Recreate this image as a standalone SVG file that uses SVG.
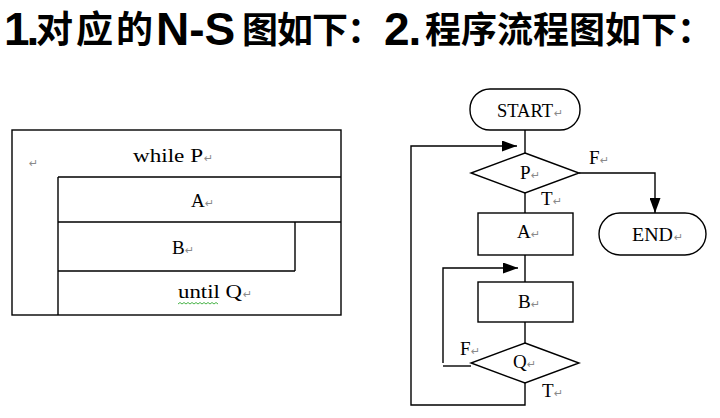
<svg xmlns="http://www.w3.org/2000/svg" width="720" height="418" viewBox="0 0 720 418">
<defs>
<style>
.t{font-family:"Liberation Sans","Noto Sans CJK SC",sans-serif;font-weight:bold;font-size:46px;fill:#000}
.c{font-family:"Noto Sans CJK SC",sans-serif;font-weight:bold;font-size:37px;fill:#000}
.s{font-family:"Liberation Serif",serif;font-size:19px;fill:#000}
.pm{font-family:"DejaVu Sans",sans-serif;font-size:11px;fill:#8a8a8a}
.ln{fill:none;stroke:#000;stroke-width:1.4}
.bx{fill:#fff;stroke:#000;stroke-width:1.4}
</style>
<marker id="ah" viewBox="0 0 15 11" refX="15" refY="5.5" markerWidth="15" markerHeight="11" markerUnits="userSpaceOnUse" orient="auto">
<path d="M0,0 L15,5.5 L0,11 Z" fill="#000"/>
</marker>
</defs>
<rect width="720" height="418" fill="#fff"/>
<g id="title">
<text class="t" y="45"><tspan class="t" x="4" y="45" letter-spacing="-3">1.</tspan><tspan class="c" x="36" y="43" letter-spacing="3">对应的</tspan><tspan class="t" x="156" y="45">N-S</tspan><tspan class="c" x="242" y="43" style="font-size:36px" letter-spacing="-1">图如下：</tspan><tspan class="t" x="384" y="45" letter-spacing="-1">2.</tspan><tspan class="c" x="425" y="43" style="font-size:36px">程序流程图如下：</tspan></text>
</g>
<g id="ns-diagram">
<rect class="bx" x="12" y="130" width="329" height="185"/>
<path class="ln" d="M58,177 H341 M58,177 V315 M58,222 H341 M295,222 V271 M58,271 H295"/>
<text class="pm" x="29" y="167">↵</text>
<text class="s" x="133" y="162" textLength="70" lengthAdjust="spacingAndGlyphs">while P</text><text class="pm" x="204" y="162">↵</text>
<text class="s" x="191" y="207" font-size="20">A</text><text class="pm" x="205" y="207">↵</text>
<text class="s" x="172" y="254">B</text><text class="pm" x="185" y="254">↵</text>
<text class="s" x="178" y="298" textLength="64" lengthAdjust="spacingAndGlyphs">until Q</text><text class="pm" x="243" y="298">↵</text>
<path d="M178,304 l2,-1.5 l2,1.5 l2,-1.5 l2,1.5 l2,-1.5 l2,1.5 l2,-1.5 l2,1.5 l2,-1.5 l2,1.5 l2,-1.5 l2,1.5 l2,-1.5 l2,1.5 l2,-1.5 l2,1.5 l2,-1.5 l2,1.5 l2,-1.5 l2,1.5" fill="none" stroke="#3a3" stroke-width="0.9"/>
</g>
<g id="connectors">
<path class="ln" d="M525,130 V153"/>
<path class="ln" d="M525,383 V405 H411 V146 H517" marker-end="url(#ah)"/>
<path class="ln" d="M579,173 H655 V213" marker-end="url(#ah)"/>
<path class="ln" d="M525,193 V213"/>
<path class="ln" d="M525,255 V282"/>
<path class="ln" d="M443,363 V268 H518" marker-end="url(#ah)"/>
<path class="ln" d="M443,366 H471"/>
<path class="ln" d="M525,322 V343"/>
<text class="s" x="589" y="164">F</text><text class="pm" x="600" y="164">↵</text>
<text class="s" x="541" y="205">T</text><text class="pm" x="553" y="205">↵</text>
<text class="s" x="460" y="355">F</text><text class="pm" x="471" y="355">↵</text>
<text class="s" x="542" y="397">T</text><text class="pm" x="554" y="397">↵</text>
</g>
<g id="start">
<rect class="bx" x="470" y="89" width="110" height="41" rx="20"/>
<text class="s" x="497" y="117" textLength="56" lengthAdjust="spacingAndGlyphs">START</text><text class="pm" x="554" y="117">↵</text>
</g>
<g id="decision-p">
<polygon class="bx" points="525,153 579,173 525,193 471,173"/>
<text class="s" x="520" y="179">P</text><text class="pm" x="531" y="179">↵</text>
</g>
<g id="end">
<rect class="bx" x="599" y="213" width="107" height="42" rx="21"/>
<text class="s" x="632" y="241" textLength="41" lengthAdjust="spacingAndGlyphs">END</text><text class="pm" x="674" y="241">↵</text>
</g>
<g id="box-a">
<rect class="bx" x="478" y="213" width="95" height="42"/>
<text class="s" x="517" y="238">A</text><text class="pm" x="531" y="238">↵</text>
</g>
<g id="box-b">
<rect class="bx" x="478" y="282" width="95" height="40"/>
<text class="s" x="518" y="308">B</text><text class="pm" x="531" y="308">↵</text>
</g>
<g id="decision-q">
<polygon class="bx" points="525,343 579,363 525,383 471,363"/>
<text class="s" x="513" y="368">Q</text><text class="pm" x="527" y="368">↵</text>
</g>
</svg>
